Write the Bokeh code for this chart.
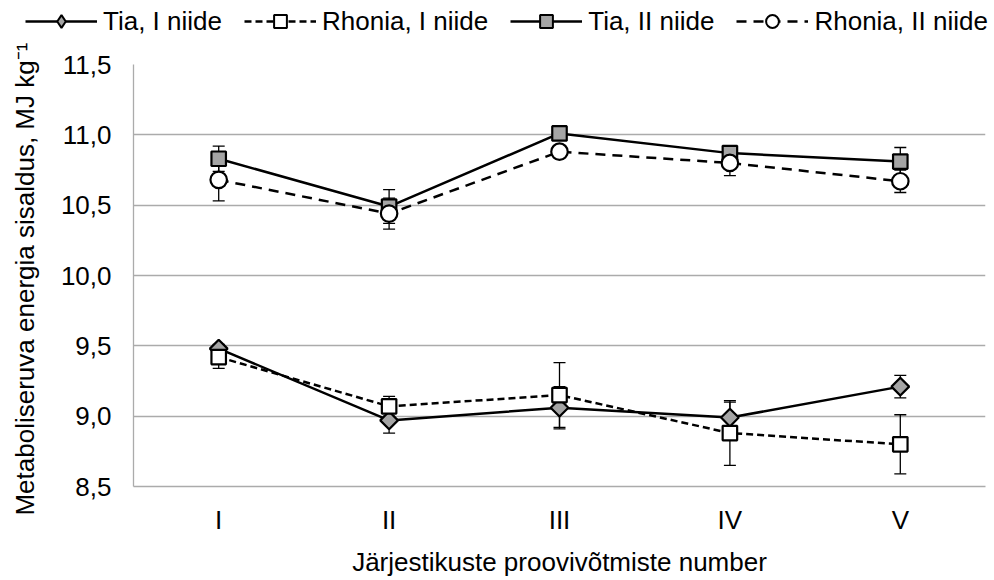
import math
from bokeh.plotting import figure
from bokeh.layouts import column
from bokeh.models import (ColumnDataSource, FactorRange, Range1d, FixedTicker,
                          Legend, LegendItem)
from bokeh.embed import file_html
from bokeh.resources import INLINE

# ---------------- data ----------------
categories = ["I", "II", "III", "IV", "V"]

tia_1 = [9.48, 8.97, 9.06, 8.99, 9.21]
tia_1_err = [0.03, 0.09, 0.15, 0.11, 0.08]

rhonia_1 = [9.42, 9.07, 9.15, 8.88, 8.80]
rhonia_1_err = [0.08, 0.07, 0.23, 0.23, 0.21]

tia_2 = [10.83, 10.49, 11.01, 10.87, 10.81]
tia_2_err = [0.09, 0.12, 0.03, 0.05, 0.10]

rhonia_2 = [10.68, 10.44, 10.88, 10.80, 10.67]
rhonia_2_err = [0.15, 0.11, 0.03, 0.09, 0.08]

series_names = ["Tia, I niide", "Rhonia, I niide", "Tia, II niide", "Rhonia, II niide"]

y_ticks = [8.5, 9.0, 9.5, 10.0, 10.5, 11.0, 11.5]
y_tick_labels = ["8,5", "9,0", "9,5", "10,0", "10,5", "11,0", "11,5"]

x_title = "Järjestikuste proovivõtmiste number"
y_title = "Metaboliseruva energia sisaldus,  MJ kg⁻¹"

# ---------------- styling ----------------
FONT = "Liberation Sans"
FS = "26px"
GRAY = "#a5a5a5"
GRID = "#ababab"

vals = [tia_1, rhonia_1, tia_2, rhonia_2]
errs = [tia_1_err, rhonia_1_err, tia_2_err, rhonia_2_err]
dashes = ["solid", "7 4", "solid", "10 7"]
markers = ["square", "square", "square", "circle"]
legend_markers = ["diamond", "square", "square", "circle"]
angles = [math.pi / 4, 0, 0, 0]
sizes = [12.5, 14.5, 14.5, 16.5]
fills = [GRAY, "white", GRAY, "white"]

# ---------------- main plot ----------------
p = figure(x_range=FactorRange(*categories, range_padding=0),
           y_range=Range1d(8.5, 11.5),
           width=994, height=540,
           min_border_left=133, min_border_right=9,
           min_border_top=24, min_border_bottom=94,
           output_backend="svg", toolbar_location=None)
p.frame_align = False
p.outline_line_color = None
p.background_fill_color = "white"
p.border_fill_color = "white"

p.yaxis.ticker = FixedTicker(ticks=y_ticks)
p.yaxis.major_label_overrides = {t: l for t, l in zip(y_ticks, y_tick_labels)}
for ax in (p.xaxis[0], p.yaxis[0]):
    ax.major_tick_line_color = None
    ax.minor_tick_line_color = None
    ax.major_tick_out = 0
    ax.major_tick_in = 0
    ax.axis_line_color = GRID
    ax.axis_line_width = 1.3
    ax.major_label_text_font = FONT
    ax.major_label_text_font_size = FS
    ax.major_label_text_color = "black"
    ax.axis_label_text_font = FONT
    ax.axis_label_text_font_size = FS
    ax.axis_label_text_font_style = "normal"
    ax.axis_label_text_color = "black"
p.yaxis.major_label_standoff = 22
p.yaxis.axis_label_standoff = 18
p.xaxis.major_label_standoff = 18
p.xaxis.axis_label_standoff = 9
p.xaxis.axis_label = x_title
p.yaxis.axis_label = y_title

p.xgrid.grid_line_color = None
p.ygrid.grid_line_color = GRID
p.ygrid.grid_line_width = 1.3

sources = []
for v, e in zip(vals, errs):
    sources.append(ColumnDataSource(dict(
        x=categories, y=v,
        lo=[a - b for a, b in zip(v, e)],
        hi=[a + b for a, b in zip(v, e)])))

# error bars
for src in sources:
    p.segment(x0="x", y0="lo", x1="x", y1="hi", source=src,
              line_color="black", line_width=1.3)
    p.scatter(x="x", y="lo", source=src, marker="dash", size=12,
              line_color="black", line_width=1.3)
    p.scatter(x="x", y="hi", source=src, marker="dash", size=12,
              line_color="black", line_width=1.3)

for src, d in zip(sources, dashes):
    p.line(x="x", y="y", source=src, line_color="black",
           line_width=2.5, line_dash=d)

for src, m, a, s, f in zip(sources, markers, angles, sizes, fills):
    p.scatter(x="x", y="y", source=src, marker=m, angle=a, size=s,
              fill_color=f, line_color="black", line_width=2.2)

# ---------------- legend strip ----------------
lg = figure(width=994, height=40, min_border=0,
            x_range=Range1d(0, 1), y_range=Range1d(0, 1),
            x_axis_type=None, y_axis_type=None,
            output_backend="svg", toolbar_location=None)
lg.frame_align = False
lg.outline_line_color = None
lg.grid.visible = False

items = []
for name, d, lm, f in zip(series_names, dashes, legend_markers, fills):
    # placeholder sources (NaN: nothing is drawn, only the legend sample)
    ph = ColumnDataSource(dict(x=[float("nan")], y=[float("nan")]))
    lr = lg.line(x="x", y="y", source=ph, line_color="black",
                 line_width=2.5, line_dash=d)
    mr = lg.scatter(x="x", y="y", source=ph, marker=lm,
                    fill_color=f, line_color="black", line_width=2)
    items.append(LegendItem(label=name, renderers=[lr, mr]))

legend = Legend(items=items, orientation="horizontal",
                location=(25, 3),
                glyph_width=72, glyph_height=32, label_standoff=6,
                spacing=22, padding=0, margin=0,
                label_text_font=FONT, label_text_font_size=FS,
                label_text_color="black",
                background_fill_alpha=0, border_line_color=None)
lg.add_layout(legend, "center")

layout = column(lg, p, spacing=0)
open("out.html", "w").write(file_html(layout, INLINE))
